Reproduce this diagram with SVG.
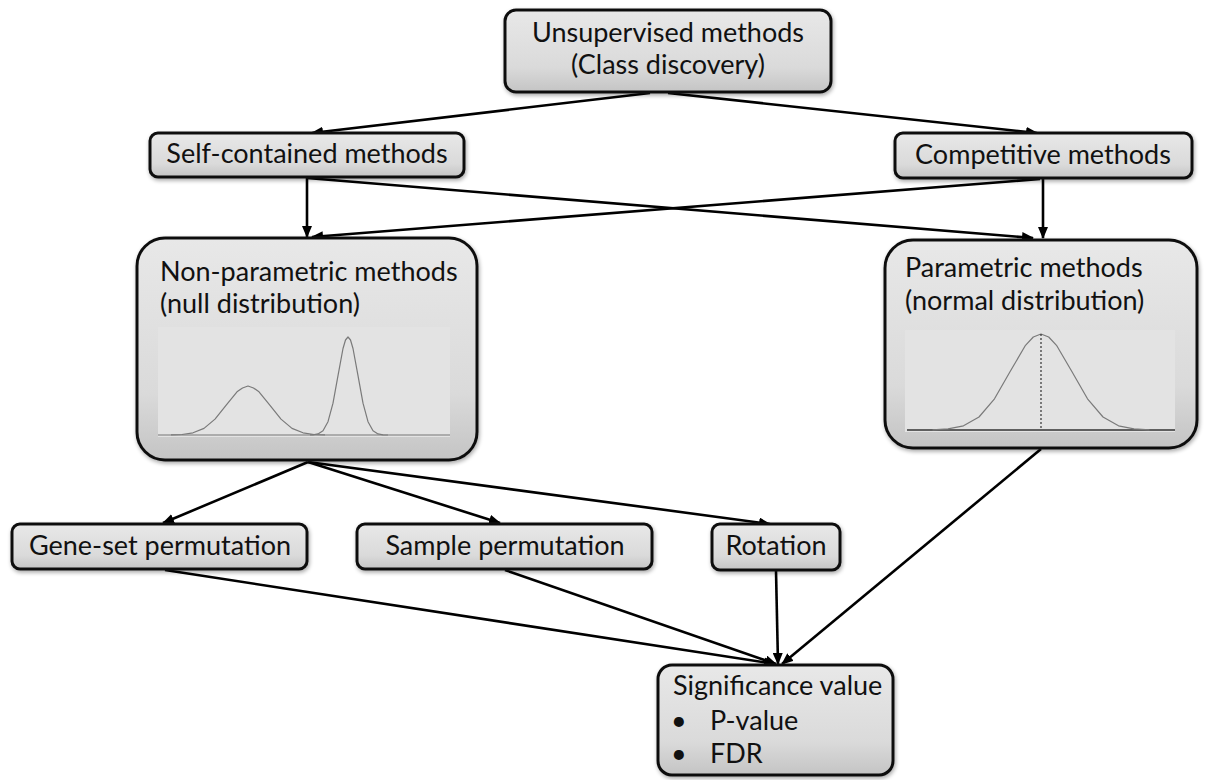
<svg xmlns="http://www.w3.org/2000/svg" width="1208" height="780" viewBox="0 0 1208 780">
  <defs>
    <linearGradient id="boxFill" x1="0" y1="0" x2="0" y2="1">
      <stop offset="0" stop-color="#e8e8e8"/>
      <stop offset="0.7" stop-color="#dadada"/>
      <stop offset="1" stop-color="#c4c4c4"/>
    </linearGradient>
    <filter id="shadow" x="-10%" y="-10%" width="120%" height="130%">
      <feGaussianBlur in="SourceAlpha" stdDeviation="2"/>
      <feOffset dx="1" dy="2" result="b"/>
      <feComponentTransfer><feFuncA type="linear" slope="0.35"/></feComponentTransfer>
      <feMerge><feMergeNode/><feMergeNode in="SourceGraphic"/></feMerge>
    </filter>
    <marker id="arrow" viewBox="0 0 12 10" refX="11" refY="5" markerWidth="12" markerHeight="10" markerUnits="userSpaceOnUse" orient="auto">
      <path d="M0,0 L12,5 L0,10 z" fill="#000"/>
    </marker>
  </defs>
  <style>
    .box { fill: url(#boxFill); stroke: #111; stroke-width: 3; filter: url(#shadow); }
    .plot { fill: #e3e3e3; stroke: none; }
    .curve { fill: none; stroke: #7a7a7a; stroke-width: 1.2; stroke-linejoin: round; }
    .axis { stroke: #777; stroke-width: 1.2; }
    .label { font-family: Lato, "Liberation Sans", sans-serif; font-size: 27px; fill: #111; }
    .mid { text-anchor: middle; }
    .edge { fill: none; stroke: #000; stroke-width: 2.6; marker-end: url(#arrow); }
  </style>

  <rect width="1208" height="780" fill="#fff"/>

  <g id="connectors">
    <line class="edge" x1="650" y1="93" x2="312" y2="133"/>
    <line class="edge" x1="668" y1="93" x2="1037" y2="133"/>
    <line class="edge" x1="307" y1="178" x2="307" y2="237"/>
    <line class="edge" x1="1043" y1="179" x2="1043" y2="238"/>
    <line class="edge" x1="307" y1="178" x2="1033" y2="238"/>
    <line class="edge" x1="1040" y1="179" x2="312" y2="237"/>
    <line class="edge" x1="308" y1="462" x2="163" y2="523"/>
    <line class="edge" x1="308" y1="462" x2="500" y2="523"/>
    <line class="edge" x1="308" y1="462" x2="770" y2="524"/>
    <line class="edge" x1="165" y1="570" x2="775" y2="664"/>
    <line class="edge" x1="505" y1="570" x2="776" y2="664"/>
    <line class="edge" x1="776" y1="571" x2="778" y2="664"/>
    <line class="edge" x1="1041" y1="449" x2="782" y2="664"/>
  </g>

  <g id="unsupervised">
    <rect class="box" x="505" y="10" width="326" height="82" rx="11"/>
    <text class="label mid" x="668" y="42">Unsupervised methods</text>
    <text class="label mid" x="668" y="74">(Class discovery)</text>
  </g>

  <g id="self-contained">
    <rect class="box" x="150" y="133" width="314" height="44" rx="8"/>
    <text class="label mid" x="307" y="163">Self-contained methods</text>
  </g>

  <g id="competitive">
    <rect class="box" x="895" y="133" width="297" height="45" rx="8"/>
    <text class="label mid" x="1043" y="164">Competitive methods</text>
  </g>

  <g id="non-parametric">
    <rect class="box" x="137" y="238" width="340" height="222" rx="28"/>
    <text class="label" x="160" y="281">Non-parametric methods</text>
    <text class="label" x="160" y="313">(null distribution)</text>
    <rect class="plot" x="158" y="327" width="292" height="110"/>
    <line class="axis" x1="158" y1="435" x2="450" y2="435"/>
    <polyline class="curve" points="171,434.9 182,434.5 193,432.8 204,428.4 215,419.1 226,405.3 237,391.8 242.5,388 248,386 253.5,388 259,391.8 270,405.3 281,419.1 292,428.4 303,432.8 314,434.5 325,434.9"/>
    <polyline class="curve" points="310,434.9 313,434.8 318,433.9 323,430.7 328,421.7 333,403.2 338,375.6 343,348.5 345.5,340 348,337 350.5,340 353,348.5 358,375.6 363,403.2 368,421.7 373,430.7 378,433.9 383,434.8 388,435"/>
  </g>

  <g id="parametric">
    <rect class="box" x="885" y="240" width="312" height="208" rx="28"/>
    <text class="label" x="905" y="277">Parametric methods</text>
    <text class="label" x="905" y="310">(normal distribution)</text>
    <rect class="plot" x="905" y="330" width="270" height="102"/>
    <line x1="907" y1="430" x2="1175" y2="430" stroke="#333" stroke-width="1.4"/>
    <polyline class="curve" stroke="#555" points="932.5,429.8 948,428.9 963.5,425.8 979,417 994.5,398.8 1010,371.8 1025.5,345.3 1033.3,337 1041,334 1048.7,337 1056.5,345.3 1072,371.8 1087.5,398.8 1103,417 1118.5,425.8 1134,428.9 1149.5,429.8"/>
    <line x1="1041" y1="334" x2="1041" y2="430" stroke="#333" stroke-width="1.2" stroke-dasharray="2,2"/>
  </g>

  <g id="gene-set-permutation">
    <rect class="box" x="12" y="524" width="295" height="45" rx="8"/>
    <text class="label mid" x="160" y="555">Gene-set permutation</text>
  </g>

  <g id="sample-permutation">
    <rect class="box" x="357" y="524" width="295" height="45" rx="8"/>
    <text class="label mid" x="505" y="555">Sample permutation</text>
  </g>

  <g id="rotation">
    <rect class="box" x="712" y="524" width="128" height="46" rx="8"/>
    <text class="label mid" x="776" y="555">Rotation</text>
  </g>

  <g id="significance">
    <rect class="box" x="658" y="665" width="235" height="110" rx="14"/>
    <text class="label" x="673" y="695">Significance value</text>
    <text class="label" x="671" y="730">•</text>
    <text class="label" x="710" y="730">P-value</text>
    <text class="label" x="671" y="763">•</text>
    <text class="label" x="710" y="763">FDR</text>
  </g>
</svg>
